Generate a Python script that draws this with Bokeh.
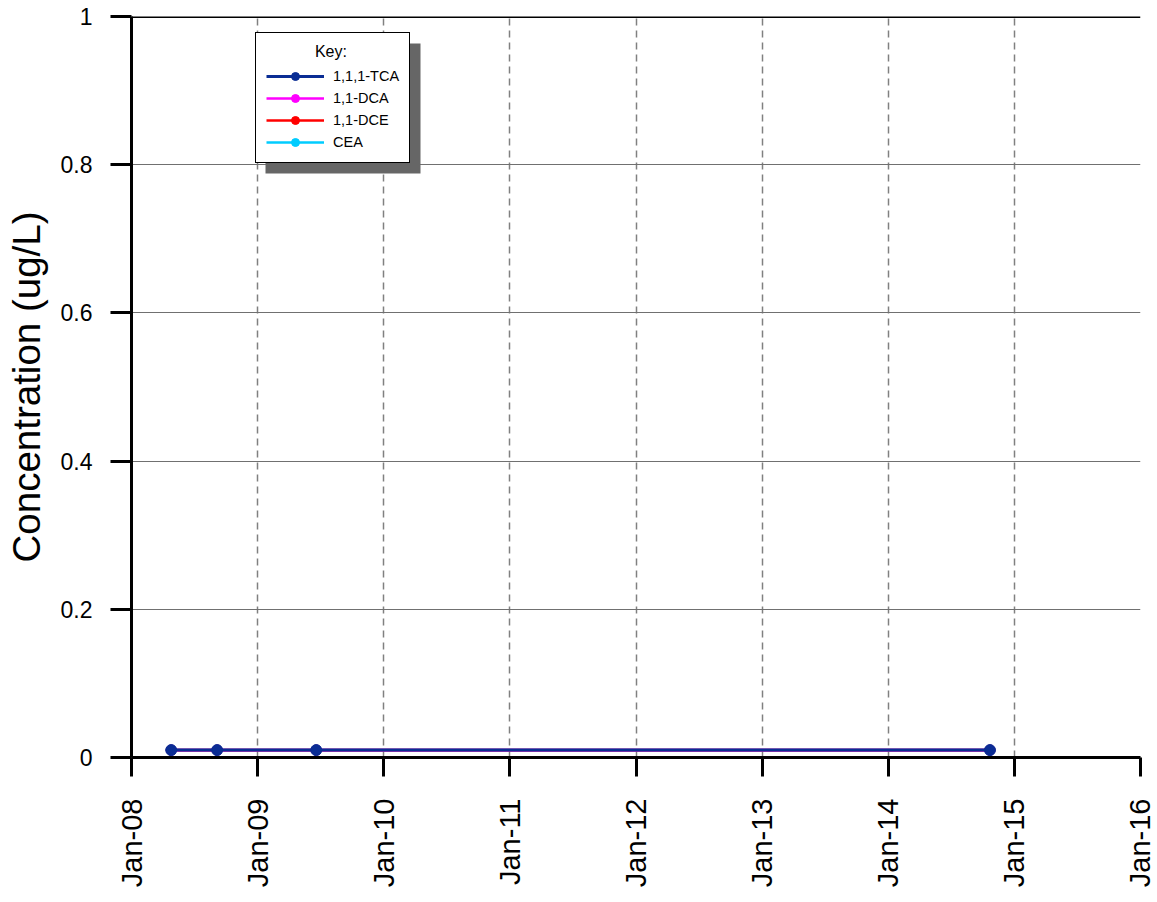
import datetime as dt
from bokeh.plotting import figure
from bokeh.models import (FixedTicker, Span, Legend, LegendItem, BoxAnnotation,
                          Range1d)
from bokeh.embed import file_html
from bokeh.resources import INLINE

# ---------------- data ----------------
series_names = ["1,1,1-TCA", "1,1-DCA", "1,1-DCE", "CEA"]
series_colors = ["#0a2d94", "#ff00ff", "#ff0000", "#00ccff"]

# non-detects plotted at the same value; 1,1,1-TCA is drawn on top
tca_dates = ["2008-04-25", "2008-09-05", "2009-06-19", "2014-10-22"]
tca_values = [0.01, 0.01, 0.01, 0.01]
dca_dates = ["2008-04-25", "2008-09-05", "2009-06-19", "2014-10-22"]
dca_values = [0.01, 0.01, 0.01, 0.01]
dce_dates = ["2008-04-25", "2008-09-05", "2009-06-19", "2014-10-22"]
dce_values = [0.01, 0.01, 0.01, 0.01]
cea_dates = ["2008-04-25", "2008-09-05", "2009-06-19", "2014-10-22"]
cea_values = [0.01, 0.01, 0.01, 0.01]

x_tick_years = [2008, 2009, 2010, 2011, 2012, 2013, 2014, 2015, 2016]
x_tick_labels = ["Jan-08", "Jan-09", "Jan-10", "Jan-11", "Jan-12",
                 "Jan-13", "Jan-14", "Jan-15", "Jan-16"]
y_ticks = [0, 0.2, 0.4, 0.6, 0.8, 1]
y_tick_labels = ["0", "0.2", "0.4", "0.6", "0.8", "1"]

FONT = "Liberation Sans"


def to_dt(s):
    return dt.datetime.strptime(s, "%Y-%m-%d")


def to_ms(d):
    return (d - dt.datetime(1970, 1, 1)).total_seconds() * 1000.0


x_start = dt.datetime(x_tick_years[0], 1, 1)
x_end = dt.datetime(x_tick_years[-1], 1, 1)

p = figure(x_axis_type="datetime", output_backend="svg", toolbar_location=None,
           frame_width=1009, frame_height=741,
           min_border_left=131, min_border_top=16, min_border_right=15,
           min_border_bottom=137,
           x_range=Range1d(x_start, x_end), y_range=Range1d(0, 1))
p.outline_line_color = None
p.background_fill_color = "white"

# ---------------- axes ----------------
x_ticks_ms = [to_ms(dt.datetime(y, 1, 1)) for y in x_tick_years]
p.xaxis.ticker = FixedTicker(ticks=x_ticks_ms)
p.xaxis.major_label_overrides = {t: l for t, l in zip(x_ticks_ms, x_tick_labels)}
p.xaxis.major_label_orientation = 1.5707963267948966
p.yaxis.ticker = FixedTicker(ticks=y_ticks)
p.yaxis.major_label_overrides = {t: l for t, l in zip(y_ticks, y_tick_labels)}
p.yaxis.axis_label = "Concentration (ug/L)"

for ax in (p.xaxis, p.yaxis):
    ax.axis_line_width = 3
    ax.axis_line_color = "black"
    ax.major_tick_line_width = 3
    ax.major_tick_line_color = "black"
    ax.major_tick_in = 0
    ax.minor_tick_line_color = None
    ax.major_label_text_font = FONT
    ax.major_label_text_color = "black"
    ax.axis_label_text_font = FONT
    ax.axis_label_text_font_style = "normal"
    ax.axis_label_text_color = "black"

p.xaxis.major_tick_out = 19
p.xaxis.major_label_standoff = 22
p.xaxis.major_label_text_font_size = "29px"
p.yaxis.major_tick_out = 21
p.yaxis.major_label_standoff = 18
p.yaxis.major_label_text_font_size = "23px"
p.yaxis.axis_label_text_font_size = "38.5px"
p.yaxis.axis_label_standoff = 10

# ---------------- grids ----------------
p.ygrid.grid_line_color = "#707070"
p.ygrid.grid_line_width = 1
p.xgrid.grid_line_color = "#808080"
p.xgrid.grid_line_width = 1.5
p.xgrid.grid_line_dash = "7 5"

# top border line
p.add_layout(Span(location=1, dimension="width", line_color="black", line_width=3))

# ---------------- series ----------------
series_data = [(tca_dates, tca_values), (dca_dates, dca_values),
               (dce_dates, dce_values), (cea_dates, cea_values)]
items = []
for i, (name, color, (dates, vals)) in reversed(list(enumerate(zip(series_names, series_colors, series_data)))):
    xs = [to_dt(d) for d in dates]
    top = (i == 0)
    lr = p.line(xs, vals, line_color=color, line_width=3 if top else 2.6)
    sr = p.scatter(xs, vals, size=11 if top else 10, fill_color=color,
                   line_color=color)
    items.insert(0, LegendItem(label=name, renderers=[lr, sr]))

# legend shadow (screen units: from frame's bottom-left)
shadow = BoxAnnotation(left=134, right=289, top=714, bottom=584,
                       left_units="screen", right_units="screen",
                       top_units="screen", bottom_units="screen",
                       fill_color="#666666", fill_alpha=1, line_color=None)
p.add_layout(shadow)

legend = Legend(items=items, location=(124, 594),
                title="\u00a0" * 11 + "Key:",
                title_text_font=FONT, title_text_font_size="16px",
                title_text_font_style="normal", title_standoff=5,
                title_text_color="black",
                label_text_font=FONT, label_text_font_size="14.5px",
                label_text_color="black",
                glyph_width=58, glyph_height=20, label_height=20,
                spacing=2, padding=10, margin=0, label_standoff=9,
                border_line_color="black", border_line_width=1,
                border_line_alpha=1,
                background_fill_color="white", background_fill_alpha=1)
p.add_layout(legend, "center")

open("out.html", "w").write(file_html(p, INLINE))
